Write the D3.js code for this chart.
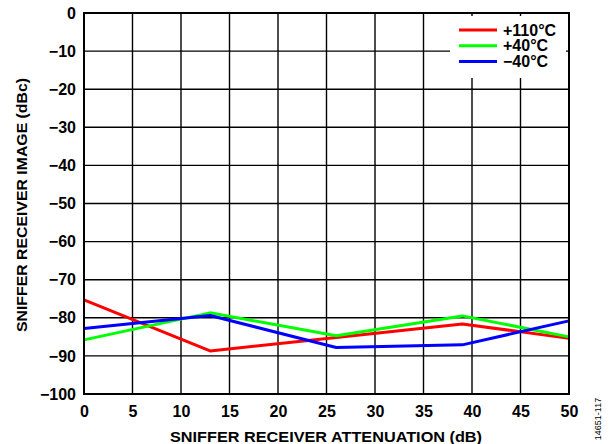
<!DOCTYPE html>
<html>
<head>
<meta charset="utf-8">
<script src="https://cdn.jsdelivr.net/npm/d3@7"></script>
<style>
  body { margin: 0; background: #fff; }
  text { font-family: "Liberation Sans", Arial, sans-serif; }
</style>
</head>
<body>
<div id="chart"></div>
<script>
// data
var attenuation = [0, 13, 26, 39, 50];
var hot = [-75.3, -88.7, -85.2, -81.6, -85.4];    // +110°C
var room = [-85.8, -78.7, -84.7, -79.5, -85.0];   // +40°C
var cold = [-82.8, -79.4, -87.8, -87.1, -80.8];   // -40°C
var seriesNames = ["+110°C", "+40°C", "\u221240°C"];
var seriesColors = ["#ff0000", "#00ff00", "#0000ff"];
var xTicks = [0, 5, 10, 15, 20, 25, 30, 35, 40, 45, 50];
var yTicks = [0, -10, -20, -30, -40, -50, -60, -70, -80, -90, -100];

var svgWidth = 614;
var svgHeight = 444;
var margin = { top: 13, right: 45, bottom: 50, left: 84 };
var width = 569 - margin.left;
var height = 394 - margin.top;

var svg = d3.select("#chart")
  .append("svg")
  .attr("width", svgWidth)
  .attr("height", svgHeight);

var chartGroup = svg.append("g")
  .attr("transform", `translate(${margin.left}, ${margin.top})`);

var xScale = d3.scaleLinear().domain([0, 50]).range([0, width]);
var yScale = d3.scaleLinear().domain([-100, 0]).range([height, 0]);

var fmt = d => d < 0 ? "\u2212" + Math.abs(d) : String(d);

// grid
chartGroup.append("g")
  .selectAll("line")
  .data(xTicks)
  .enter()
  .append("line")
  .attr("x1", d => xScale(d)).attr("x2", d => xScale(d))
  .attr("y1", 0).attr("y2", height)
  .attr("stroke", "#000").attr("stroke-width", 1.4);

chartGroup.append("g")
  .selectAll("line")
  .data(yTicks)
  .enter()
  .append("line")
  .attr("x1", 0).attr("x2", width)
  .attr("y1", d => yScale(d)).attr("y2", d => yScale(d))
  .attr("stroke", "#000").attr("stroke-width", 1.4);

// axes (labels only)
var bottomAxis = d3.axisBottom(xScale).tickValues(xTicks).tickSize(0).tickPadding(12);
var leftAxis = d3.axisLeft(yScale).tickValues(yTicks).tickSize(0).tickPadding(8).tickFormat(fmt);

var xAxisG = chartGroup.append("g")
  .attr("transform", `translate(0, ${height})`)
  .call(bottomAxis);
var yAxisG = chartGroup.append("g").call(leftAxis);

[xAxisG, yAxisG].forEach(function (g) {
  g.select(".domain").remove();
  g.selectAll("text")
    .attr("font-family", "Liberation Sans, Arial, sans-serif")
    .attr("font-size", 16)
    .attr("font-weight", "bold")
    .attr("fill", "#000");
});

// legend box (covers grid)
chartGroup.append("rect")
  .attr("x", 450 - margin.left)
  .attr("y", 16 - margin.top)
  .attr("width", 116)
  .attr("height", 62)
  .attr("fill", "#fff");

// lines
var allSeries = [hot, room, cold];
var line = d3.line()
  .x((d, i) => xScale(attenuation[i]))
  .y(d => yScale(d));

chartGroup.selectAll(".series")
  .data(allSeries)
  .enter()
  .append("path")
  .attr("class", "series")
  .attr("d", d => line(d))
  .attr("fill", "none")
  .attr("stroke", (d, i) => seriesColors[i])
  .attr("stroke-width", 3)
  .attr("stroke-linejoin", "round");

// frame
chartGroup.append("rect")
  .attr("width", width)
  .attr("height", height)
  .attr("fill", "none")
  .attr("stroke", "#000")
  .attr("stroke-width", 2);

// legend
var legend = svg.append("g");
seriesNames.forEach(function (name, i) {
  var y = 30 + i * 15.8;
  legend.append("line")
    .attr("x1", 459).attr("x2", 497)
    .attr("y1", y).attr("y2", y)
    .attr("stroke", seriesColors[i])
    .attr("stroke-width", 3);
  legend.append("text")
    .attr("x", 503)
    .attr("y", y + 5.5)
    .attr("font-size", 16)
    .attr("font-weight", "bold")
    .text(name);
});

// axis titles
svg.append("text")
  .attr("x", 326)
  .attr("y", 441.5)
  .attr("text-anchor", "middle")
  .attr("font-size", 15)
  .attr("font-weight", "bold")
  .attr("textLength", 312)
  .attr("lengthAdjust", "spacingAndGlyphs")
  .text("SNIFFER RECEIVER ATTENUATION (dB)");

svg.append("text")
  .attr("transform", "rotate(-90)")
  .attr("x", -205)
  .attr("y", 26.5)
  .attr("text-anchor", "middle")
  .attr("font-size", 15)
  .attr("font-weight", "bold")
  .attr("textLength", 254)
  .attr("lengthAdjust", "spacingAndGlyphs")
  .text("SNIFFER RECEIVER IMAGE (dBc)");

svg.append("text")
  .attr("transform", "rotate(-90)")
  .attr("x", -419)
  .attr("y", 601)
  .attr("text-anchor", "middle")
  .attr("font-size", 9)
  .text("14651-117");
</script>
</body>
</html>
